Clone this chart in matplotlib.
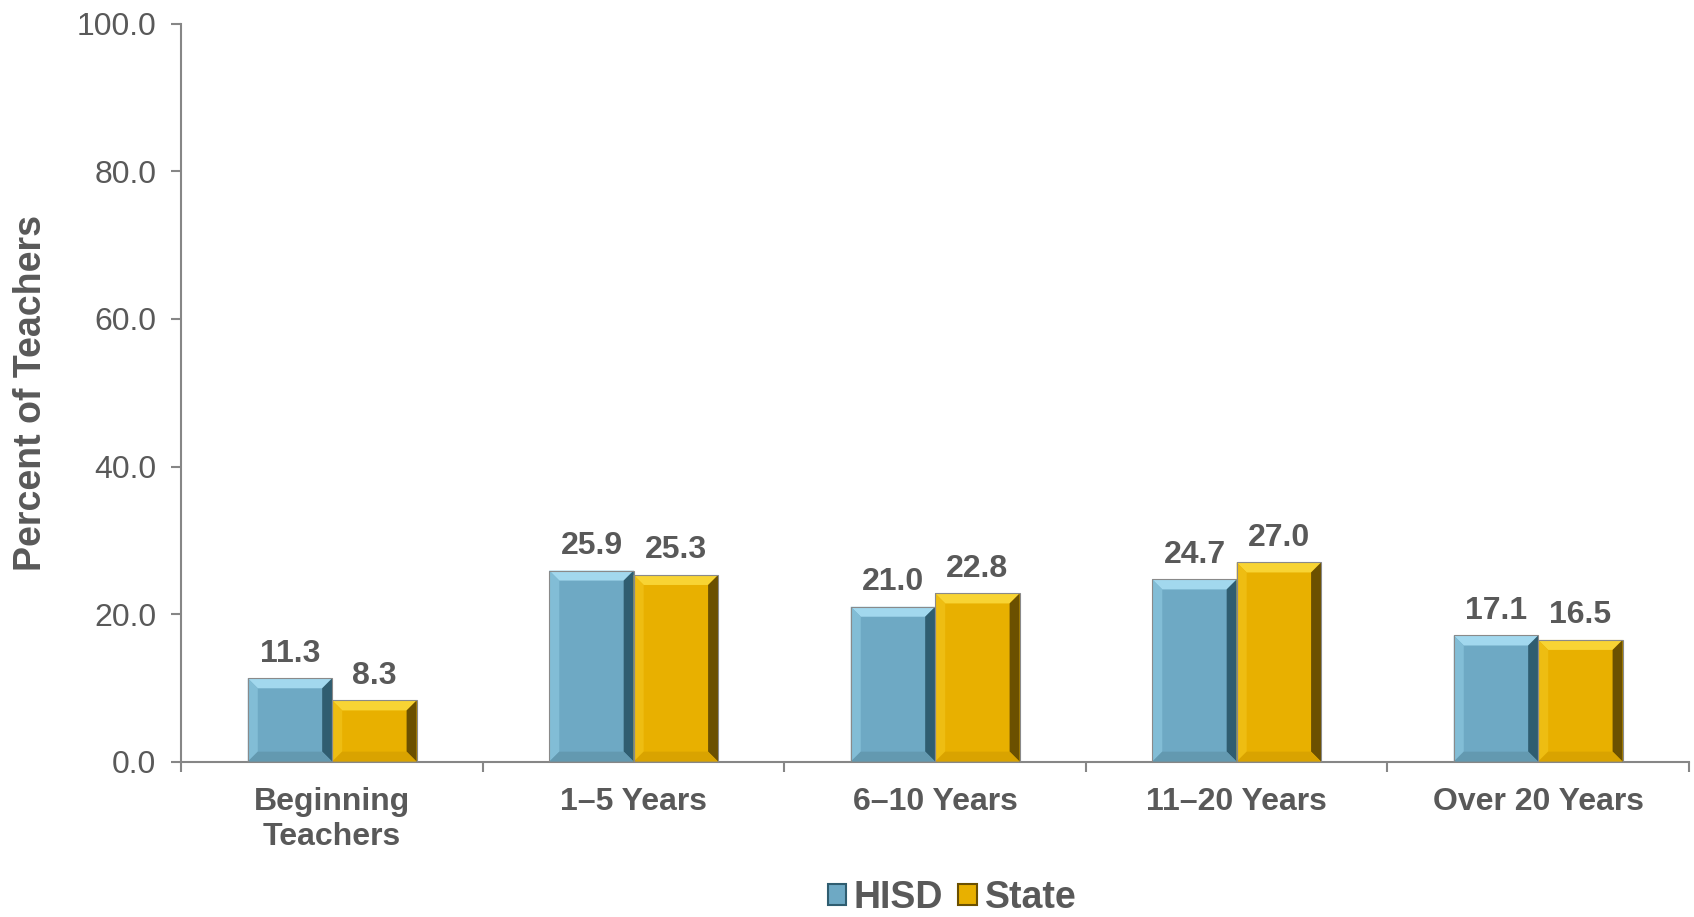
import matplotlib
matplotlib.use('Agg')
import matplotlib.pyplot as plt
from matplotlib.patches import Rectangle, Polygon
import numpy as np

# Данные
categories = ['Beginning\nTeachers', '1\u20135 Years', '6\u201310 Years', '11\u201320 Years', 'Over 20 Years']
hisd = [11.3, 25.9, 21.0, 24.7, 17.1]
state = [8.3, 25.3, 22.8, 27.0, 16.5]
series_names = ['HISD', 'State']

plt.rcParams['font.family'] = ['Liberation Sans', 'DejaVu Sans']
text_gray = '#595959'
axis_gray = '#868686'

# цвета: лицевая грань, верх, лево, право, низ
palettes = {
    'HISD': ('#6EA9C4', '#A2D8EE', '#82BDD6', '#2F5D70', '#6399B0'),
    'State': ('#E8B000', '#F8D434', '#EEBD12', '#6B5000', '#D9A300'),
}

fig = plt.figure(figsize=(16.94, 9.17), dpi=100)
ax = fig.add_axes([0.1071, 0.1694, 0.8899, 0.8046])

x = np.arange(len(categories))
width = 0.28
ax.set_xlim(-0.5, len(categories) - 0.5)
ax.set_ylim(0, 100)

# размер фаски в единицах данных
ax_w_px = 0.8899 * 1694
ax_h_px = 0.8046 * 917
bev_px = 10
bx = bev_px * (len(categories)) / ax_w_px
by = bev_px * 100 / ax_h_px


def bevel_bar(x0, h, name):
    face, top, left, right, bottom = palettes[name]
    x1 = x0 + width
    b = min(by, h / 2)
    ax.add_patch(Rectangle((x0, 0), width, h, facecolor=face, edgecolor='none', zorder=2))
    ax.add_patch(Polygon([(x0, h), (x1, h), (x1 - bx, h - b), (x0 + bx, h - b)],
                         closed=True, facecolor=top, edgecolor='none', zorder=3))
    ax.add_patch(Polygon([(x0, 0), (x0, h), (x0 + bx, h - b), (x0 + bx, b)],
                         closed=True, facecolor=left, edgecolor='none', zorder=3))
    ax.add_patch(Polygon([(x1, 0), (x1, h), (x1 - bx, h - b), (x1 - bx, b)],
                         closed=True, facecolor=right, edgecolor='none', zorder=3))
    ax.add_patch(Polygon([(x0, 0), (x1, 0), (x1 - bx, b), (x0 + bx, b)],
                         closed=True, facecolor=bottom, edgecolor='none', zorder=3))
    ax.add_patch(Rectangle((x0, 0), width, h, facecolor='none', edgecolor='#8a8a8a',
                           linewidth=0.8, zorder=4))
    ax.annotate(f'{h:.1f}', (x0 + width / 2, h), xytext=(0, 7), textcoords='offset points',
                ha='center', va='bottom', fontsize=23, fontweight='bold', color=text_gray)


for i in range(len(categories)):
    bevel_bar(x[i] - width, hisd[i], 'HISD')
    bevel_bar(x[i], state[i], 'State')

# оси
for side in ['top', 'right']:
    ax.spines[side].set_visible(False)
for side in ['left', 'bottom']:
    ax.spines[side].set_color(axis_gray)
    ax.spines[side].set_linewidth(1.5)

ax.set_yticks(np.arange(0, 101, 20))
ax.set_yticklabels([f'{v:.1f}' for v in np.arange(0, 101, 20)], fontsize=23, color=text_gray)
ax.tick_params(axis='y', direction='out', length=7, width=1.5, color=axis_gray, pad=11)

ax.set_xticks(x)
ax.set_xticklabels(categories, fontsize=23, fontweight='bold', color=text_gray, linespacing=1.25)
ax.set_xticks(np.arange(-0.5, len(categories), 1), minor=True)
ax.tick_params(axis='x', which='major', length=0, pad=18)
ax.tick_params(axis='x', which='minor', direction='out', length=7, width=1.5, color=axis_gray)

ax.set_ylabel('Percent of Teachers', fontsize=27, fontweight='bold', color=text_gray, labelpad=20)

# легенда
handles = [Rectangle((0, 0), 1, 1, facecolor=palettes[n][0], edgecolor=palettes[n][3], linewidth=1.5)
           for n in series_names]
leg = fig.legend(handles, series_names, loc='center', bbox_to_anchor=(0.562, 0.021), ncol=2,
                 frameon=False, fontsize=27, handlelength=0.5, handleheight=0.5,
                 handletextpad=0.2, columnspacing=0.4)
for t in leg.get_texts():
    t.set_fontweight('bold')
    t.set_color(text_gray)

plt.savefig('out.png', dpi=100)
